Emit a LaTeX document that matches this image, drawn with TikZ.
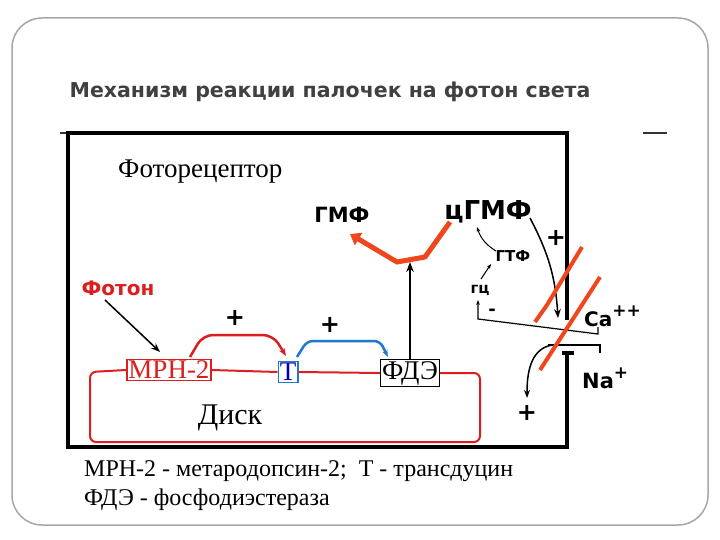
\documentclass[tikz,border=0pt]{standalone}
\usepackage{fontspec}
\setmainfont{Liberation Serif}
\newfontfamily\sans{DejaVu Sans}
\usetikzlibrary{arrows.meta}
\definecolor{orr}{RGB}{240,70,30}
\definecolor{dred}{RGB}{220,30,30}
\definecolor{bl}{RGB}{30,120,210}
\newcommand{\fs}[1]{\fontsize{#1}{#1}\selectfont}
\begin{document}
\begin{tikzpicture}[x=1pt,y=-1pt,
  blk/.style={black,line width=3.5pt},
  lbl/.style={inner sep=0pt},
  ser/.style={font=\fs{27},inner sep=0pt},
  bx/.style={draw,line width=1.5pt,inner sep=1.5pt,font=\fs{27}},
  thin/.style={-{Stealth[length=5pt]},line width=1pt}]
\useasboundingbox (0,0) rectangle (720,540);
\draw[gray!70,line width=1.5pt,rounded corners=30pt] (12,18) rectangle (708,525);
\node[lbl,font=\sans\bfseries\fs{20.5},text=black!75] (title) at (330,92) {Механизм реакции палочек на фотон света};
\draw[black!80,line width=1.5pt] (60,133)--(66,133) (643,133)--(667,133);
% box
\draw[blk] (567,320)--(567,133)--(68,133)--(68,447)--(567,447)--(567,353);
\draw[blk] (562,353)--(574,353);
\node[ser,anchor=west] (fr) at (118,172) {Фоторецептор};
% disc
\node[bx,draw=dred,text=dred] (mph) at (169,370) {MPH-2};
\node[bx,draw=bl,text=blue!70!black] (t) at (288,372) {T};
\node[bx,draw=black] (fde) at (410,373) {ФДЭ};
\draw[dred,line width=2pt,rounded corners=6pt] (mph.west)--(90,372)--(90,442)--(480,442)--(480,373)--(fde.east);
\draw[dred,line width=2pt] (mph.east)--(t.west) (t.east)--(fde.west);
\node[ser,font=\fs{30}] (disk) at (230,418) {Диск};
\node[lbl,text=dred,font=\sans\bfseries\fs{20}] (photon) at (118,288) {Фотон};
\draw[-{Stealth[length=9pt]},line width=1.5pt] (105,300)--(160,352);
\draw[dred,line width=2.5pt,-{Stealth[length=8pt]},rounded corners=10pt] (190,357)--(203,335)--(273,335)--(286,356);
\draw[bl,line width=2.5pt,-{Stealth[length=7pt]},rounded corners=6pt] (297,357)--(307,341)--(380,341)--(388,357);
\node[lbl,font=\sans\bfseries\fs{24}] (p1) at (235,318) {+};
\node[lbl,font=\sans\bfseries\fs{24}] (p2) at (330,325) {+};
% cGMP
\node[lbl,font=\sans\bfseries\fs{21}] (gmf) at (342,215) {ГМФ};
\node[lbl,font=\sans\bfseries\fs{26}] (cgmf) at (488,212) {цГМФ};
\draw[orr,line width=5pt,-{Triangle[length=10pt,width=14pt]}] (450,222)--(425,257)--(397,262)--(350,234);
\draw[-{Stealth[length=10pt]},line width=2pt] (fde.north)--(410,262);
\node[lbl,font=\sans\bfseries\fs{15}] (gtf) at (513,256) {ГТФ};
\node[lbl,font=\sans\bfseries\fs{15}] (gc) at (480,290) {гц};
\draw[thin] (481,279)--(491,264);
\draw[thin] (496,251) to[bend left=20] (477,227);
\draw[-{Stealth[length=9pt]},line width=1.5pt] (530,218) to[bend left=12] (558,318);
\node[lbl,font=\sans\bfseries\fs{24}] (p3) at (556,238) {+};
\draw[line width=1.2pt,-{Stealth[length=5pt]}] (598,327)--(598,334)--(478,319)--(478,300);
\node[lbl,font=\sans\bfseries\fs{18}] (m) at (492,312) {-};
\draw[line width=1.5pt] (548,345)--(600,345)--(600,353);
\draw[line width=1.5pt,-{Stealth[length=8pt]}] (552,345) to[out=190,in=90] (527,398);
\draw[line width=1.5pt] (568,353)--(568,447);
\node[lbl,font=\sans\bfseries\fs{24}] (p4) at (527,413) {+};
\draw[orr,line width=4pt] (535,322)--(547,305)--(582,247);
\draw[orr,line width=4pt] (540,370)--(600,277);
\node[lbl,font=\sans\bfseries\fs{20},anchor=west] (ca) at (584,316) {Ca\raisebox{10pt}{\fs{17}++}};
\node[lbl,font=\sans\bfseries\fs{21},anchor=west] (na) at (582,378) {Na\raisebox{10pt}{\fs{17}+}};
% legend
\node[ser,font=\fs{24},anchor=west] (l1) at (84,471) {MPH-2 - метародопсин-2;\ \ T - трансдуцин};
\node[ser,font=\fs{24},anchor=west] (l2) at (84,500) {ФДЭ - фосфодиэстераза};
\end{tikzpicture}
\end{document}
